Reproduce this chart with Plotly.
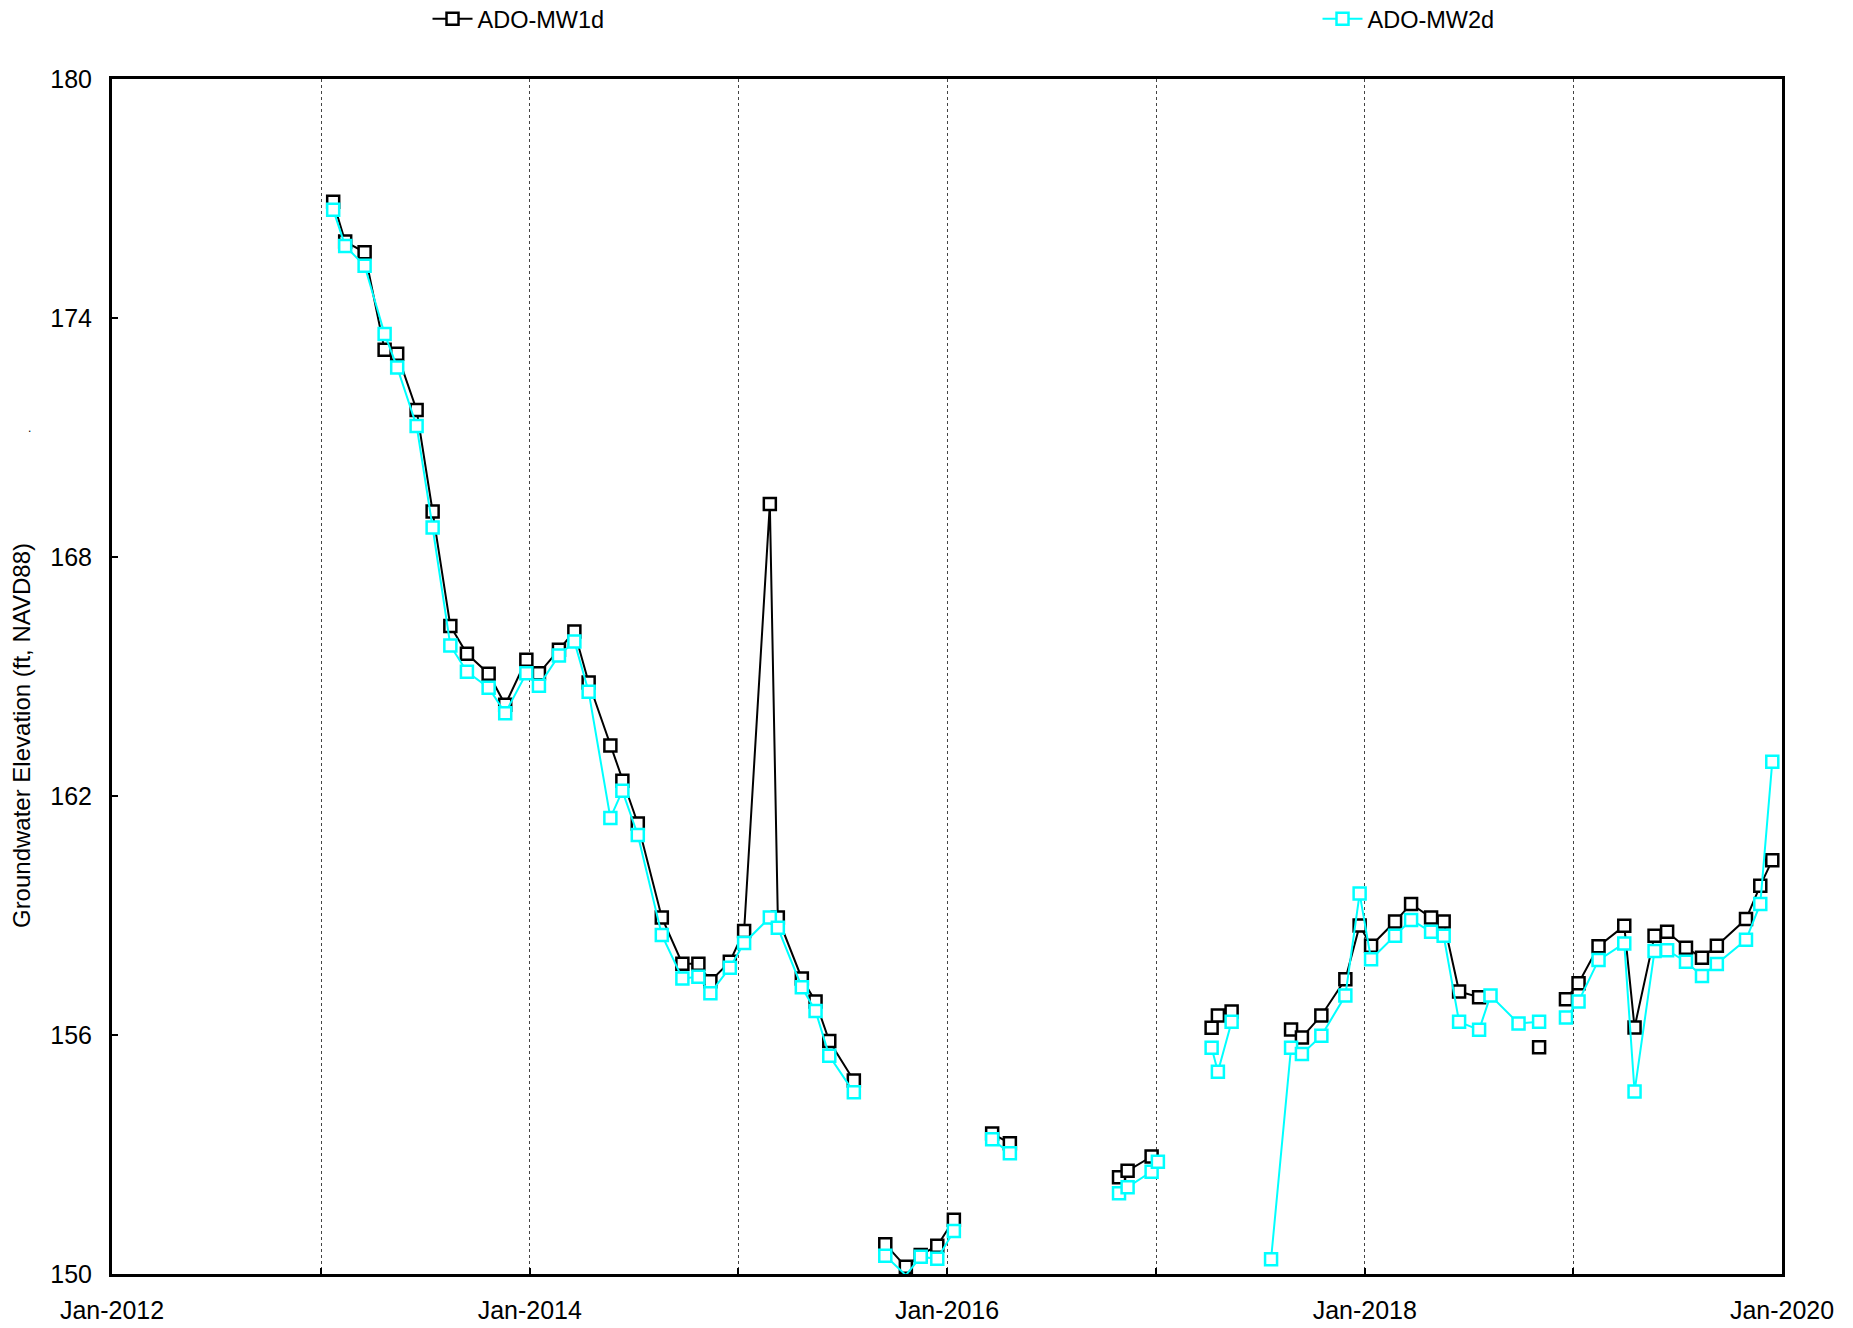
import plotly.graph_objects as go

# ---------------- data ----------------
mw1d_dates = [
    "2013-01-22", "2013-02-12", "2013-03-18", "2013-04-22", "2013-05-14", "2013-06-17",
    "2013-07-15", "2013-08-15", "2013-09-13", "2013-10-21", "2013-11-19", "2013-12-26",
    "2014-01-17", "2014-02-21", "2014-03-20", "2014-04-14", "2014-05-22", "2014-06-12",
    "2014-07-09", "2014-08-20", "2014-09-25", "2014-10-23", "2014-11-13", "2014-12-17",
    "2015-01-11", "2015-02-25", "2015-03-11", "2015-04-22", "2015-05-16", "2015-06-09",
    "2015-07-22", "2015-08-20",
    "2015-09-15", "2015-10-21", "2015-11-16", "2015-12-15", "2016-01-13", "2016-02-15",
    "2016-03-20", "2016-04-20", "2016-07-01",
    "2016-10-28", "2016-11-12", "2016-12-24", "2017-02-15",
    "2017-04-08", "2017-04-19", "2017-05-13", "2017-07-01",
    "2017-08-25", "2017-09-13", "2017-10-17", "2017-11-28", "2017-12-23", "2018-01-12",
    "2018-02-23", "2018-03-23", "2018-04-27", "2018-05-19", "2018-06-15", "2018-07-20",
    "2018-09-01",
    "2018-11-02", "2018-11-25",
    "2018-12-19", "2019-01-10", "2019-02-14", "2019-03-31", "2019-04-18", "2019-05-23",
    "2019-06-14", "2019-07-17", "2019-08-14", "2019-09-09", "2019-10-30", "2019-11-24",
    "2019-12-15",
]
mw1d_values = [
    176.92, 175.92, 175.65, 173.20, 173.10, 171.69,
    169.14, 166.27, 165.57, 165.07, 164.29, 165.42,
    165.08, 165.67, 166.13, 164.85, 163.27, 162.38,
    161.31, 158.95, 157.79, 157.79, 157.35, 157.84,
    158.61, 169.33, 158.95, 157.42, 156.84, 155.85,
    154.86, None,
    150.75, 150.18, 150.48, 150.71, 151.36, None,
    153.53, 153.28, None,
    152.43, 152.59, 152.95, None,
    156.18, 156.49, 156.59, None,
    156.14, 155.94, 156.49, 157.40, 158.75, 158.24,
    158.85, 159.29, 158.95, 158.85, 157.09, 156.95,
    None,
    155.69, None,
    156.90, 157.30, 158.23, 158.74, 156.19, 158.49,
    158.59, 158.19, 157.94, 158.24, 158.91, 159.75,
    160.39,
]

mw2d_dates = [
    "2013-01-22", "2013-02-12", "2013-03-18", "2013-04-22", "2013-05-14", "2013-06-17",
    "2013-07-15", "2013-08-15", "2013-09-13", "2013-10-21", "2013-11-19", "2013-12-26",
    "2014-01-17", "2014-02-21", "2014-03-20", "2014-04-14", "2014-05-22", "2014-06-12",
    "2014-07-09", "2014-08-20", "2014-09-25", "2014-10-23", "2014-11-13", "2014-12-17",
    "2015-01-11", "2015-02-25", "2015-03-11", "2015-04-22", "2015-05-16", "2015-06-09",
    "2015-07-22", "2015-08-20",
    "2015-09-15", "2015-10-21", "2015-11-16", "2015-12-15", "2016-01-13", "2016-02-15",
    "2016-03-20", "2016-04-20", "2016-07-01",
    "2016-10-28", "2016-11-12", "2016-12-24", "2017-01-04", "2017-02-15",
    "2017-04-08", "2017-04-19", "2017-05-13", "2017-06-15",
    "2017-07-21", "2017-08-25", "2017-09-13", "2017-10-17", "2017-11-28", "2017-12-23",
    "2018-01-12", "2018-02-23", "2018-03-23", "2018-04-27", "2018-05-19", "2018-06-15",
    "2018-07-20", "2018-08-09", "2018-09-27", "2018-11-02", "2018-11-25",
    "2018-12-19", "2019-01-10", "2019-02-14", "2019-03-31", "2019-04-18", "2019-05-23",
    "2019-06-14", "2019-07-17", "2019-08-14", "2019-09-09", "2019-10-30", "2019-11-24",
    "2019-12-15",
]
mw2d_values = [
    176.72, 175.81, 175.31, 173.60, 172.76, 171.29,
    168.74, 165.78, 165.12, 164.72, 164.08, 165.08,
    164.77, 165.53, 165.88, 164.62, 161.45, 162.13,
    161.02, 158.51, 157.42, 157.46, 157.05, 157.69,
    158.31, 158.95, 158.69, 157.20, 156.60, 155.48,
    154.56, None,
    150.46, 149.97, 150.43, 150.38, 151.08, None,
    153.38, 153.03, None,
    152.03, 152.18, 152.57, 152.82, None,
    155.68, 155.08, 156.33, None,
    150.37, 155.68, 155.52, 155.98, 156.99, 159.55,
    157.90, 158.49, 158.89, 158.59, 158.49, 156.33,
    156.13, 156.99, 156.29, 156.33, None,
    156.44, 156.84, 157.88, 158.30, 154.58, 158.11,
    158.13, 157.84, 157.48, 157.78, 158.39, 159.29,
    162.86,
]

x_tick_vals = ["2012-01-01", "2013-01-01", "2014-01-01", "2015-01-01", "2016-01-01",
               "2017-01-01", "2018-01-01", "2019-01-01", "2020-01-01"]
x_tick_text = ["Jan-2012", "", "Jan-2014", "", "Jan-2016", "", "Jan-2018", "", "Jan-2020"]
y_tick_vals = [150, 156, 162, 168, 174, 180]
y_tick_text = ["150", "156", "162", "168", "174", "180"]
series_names = ["ADO-MW1d", "ADO-MW2d"]

FONT = "Arial, Liberation Sans, sans-serif"

fig = go.Figure()
fig.add_trace(go.Scatter(
    x=mw1d_dates, y=mw1d_values, name=series_names[0], mode="lines+markers",
    line=dict(color="black", width=2),
    marker=dict(symbol="square", size=12, color="white", line=dict(color="black", width=2.5)),
    connectgaps=False, cliponaxis=False, legend="legend",
))
fig.add_trace(go.Scatter(
    x=mw2d_dates, y=mw2d_values, name=series_names[1], mode="lines+markers",
    line=dict(color="#00FFFF", width=2),
    marker=dict(symbol="square", size=12, color="white", line=dict(color="#00FFFF", width=2.5)),
    connectgaps=False, cliponaxis=False, legend="legend2",
))

legend_common = dict(
    orientation="h", xanchor="left", yanchor="middle",
    xref="container", yref="container", y=0.9917,
    font=dict(family=FONT, size=23.5, color="black"),
    bgcolor="rgba(0,0,0,0)", itemwidth=40,
)

fig.update_layout(
    width=1853, height=1328,
    margin=dict(l=104, r=79, t=71, b=62, autoexpand=False),
    paper_bgcolor="white", plot_bgcolor="white",
    font=dict(family=FONT, size=24, color="black"),
    showlegend=True,
    legend=dict(x=0.2264, **legend_common),
    legend2=dict(x=0.7067, **legend_common),
    xaxis=dict(
        type="date", range=["2012-01-01", "2020-01-01"],
        tickmode="array", tickvals=x_tick_vals, ticktext=x_tick_text,
        ticks="inside", ticklen=6, tickwidth=1.5, tickcolor="black",
        showgrid=True, gridcolor="#444444", griddash="dot", gridwidth=1,
        showline=True, linecolor="black", linewidth=3, mirror=True,
        zeroline=False, ticklabelstandoff=12,
        tickfont=dict(family=FONT, size=25, color="black"),
    ),
    yaxis=dict(
        range=[150, 180], tickmode="array", tickvals=y_tick_vals, ticktext=y_tick_text,
        ticks="inside", ticklen=6, tickwidth=1.5, tickcolor="black",
        showgrid=False, showline=True, linecolor="black", linewidth=3, mirror=True,
        zeroline=False, ticklabelstandoff=12,
        tickfont=dict(family=FONT, size=25, color="black"),
    ),
    annotations=[
        dict(text="Groundwater Elevation (ft, NAVD88)", textangle=-90,
             xref="paper", yref="paper", x=-0.0545, y=0.451,
             xanchor="center", yanchor="middle", showarrow=False,
             font=dict(family=FONT, size=24, color="black")),
        dict(text=".", xref="paper", yref="paper", x=-0.0493, y=0.708,
             xanchor="center", yanchor="middle", showarrow=False,
             font=dict(family=FONT, size=12, color="black")),
    ],
)

fig.write_html("out.html")
